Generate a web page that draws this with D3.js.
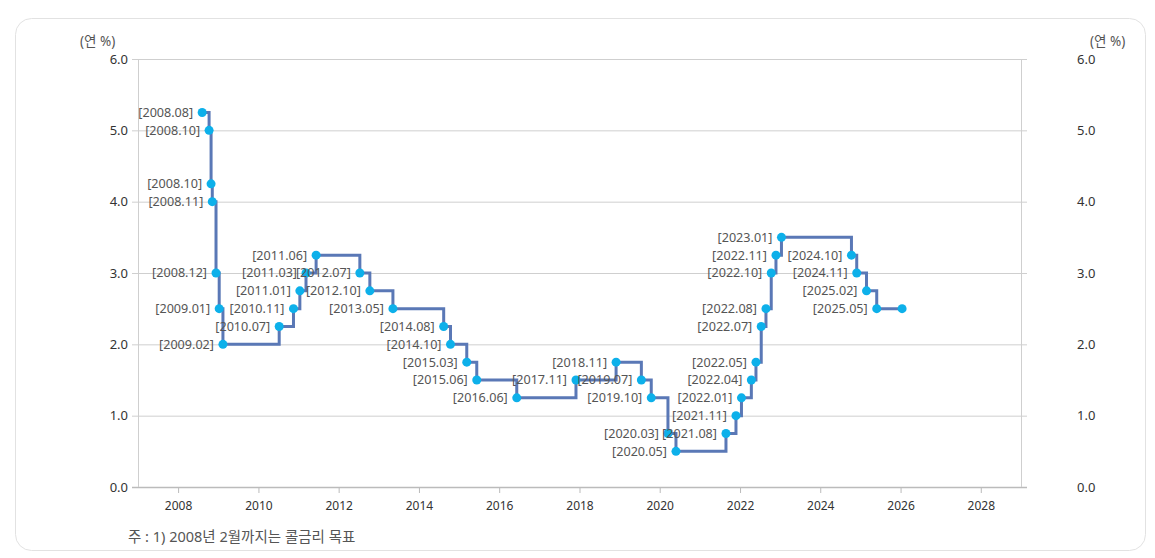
<!DOCTYPE html>
<html>
<head>
<meta charset="utf-8">
<script src="https://cdn.jsdelivr.net/npm/d3@7"></script>
<style>
  body { margin: 0; background: #fff; }
  text { font-family: "Noto Sans", "Noto Sans CJK KR", sans-serif; }
</style>
</head>
<body>
<div id="chart"></div>
<script>
// policy rate decisions (date, rate %)
const dates = [
  '2008-08-07', '2008-10-09', '2008-10-27', '2008-11-07', '2008-12-11',
  '2009-01-09', '2009-02-12', '2010-07-09', '2010-11-16', '2011-01-13',
  '2011-03-10', '2011-06-10', '2012-07-12', '2012-10-11', '2013-05-09',
  '2014-08-14', '2014-10-15', '2015-03-12', '2015-06-11', '2016-06-09',
  '2017-11-30', '2018-11-30', '2019-07-18', '2019-10-16', '2020-03-16',
  '2020-05-28', '2021-08-26', '2021-11-25', '2022-01-14', '2022-04-14',
  '2022-05-26', '2022-07-13', '2022-08-25', '2022-10-12', '2022-11-24',
  '2023-01-13', '2024-10-11', '2024-11-28', '2025-02-25', '2025-05-29',
  '2026-01-15'
];
const rates = [
  5.25, 5.00, 4.25, 4.00, 3.00,
  2.50, 2.00, 2.25, 2.50, 2.75,
  3.00, 3.25, 3.00, 2.75, 2.50,
  2.25, 2.00, 1.75, 1.50, 1.25,
  1.50, 1.75, 1.50, 1.25, 0.75,
  0.50, 0.75, 1.00, 1.25, 1.50,
  1.75, 2.25, 2.50, 3.00, 3.25,
  3.50, 3.25, 3.00, 2.75, 2.50,
  2.50
];
const labels = [
  '[2008.08]', '[2008.10]', '[2008.10]', '[2008.11]', '[2008.12]',
  '[2009.01]', '[2009.02]', '[2010.07]', '[2010.11]', '[2011.01]',
  '[2011.03]', '[2011.06]', '[2012.07]', '[2012.10]', '[2013.05]',
  '[2014.08]', '[2014.10]', '[2015.03]', '[2015.06]', '[2016.06]',
  '[2017.11]', '[2018.11]', '[2019.07]', '[2019.10]', '[2020.03]',
  '[2020.05]', '[2021.08]', '[2021.11]', '[2022.01]', '[2022.04]',
  '[2022.05]', '[2022.07]', '[2022.08]', '[2022.10]', '[2022.11]',
  '[2023.01]', '[2024.10]', '[2024.11]', '[2025.02]', '[2025.05]',
  ''
];
const yTicks = [0, 1, 2, 3, 4, 5, 6];
const xTickYears = [2008, 2010, 2012, 2014, 2016, 2018, 2020, 2022, 2024, 2026, 2028];
const unitLabel = '(연 %)';
const footnote = '주 : 1) 2008년 2월까지는 콜금리 목표';

const parse = d3.timeParse('%Y-%m-%d');
const data = dates.map((d, i) => ({ date: parse(d), rate: rates[i], label: labels[i] }));

const width = 1155, height = 558;
const svg = d3.select('#chart').append('svg')
    .attr('width', width)
    .attr('height', height);

// card frame
svg.append('rect')
    .attr('x', 15.5).attr('y', 18.5)
    .attr('width', 1130).attr('height', 532)
    .attr('rx', 16)
    .attr('fill', '#fff')
    .attr('stroke', '#e2e2e2');

const plotLeft = 138, plotRight = 1021, plotTop = 59, plotBottom = 487;

const x = d3.scaleTime()
    .domain([new Date(2007, 0, 1), new Date(2029, 0, 1)])
    .range([plotLeft, plotRight]);
const y = d3.scaleLinear()
    .domain([0, 6])
    .range([plotBottom, plotTop]);

// horizontal grid
svg.append('g').selectAll('line')
    .data(yTicks)
    .enter()
    .append('line')
    .attr('x1', plotLeft - 6).attr('x2', plotRight + 6)
    .attr('y1', d => y(d) + 0.5).attr('y2', d => y(d) + 0.5)
    .attr('stroke', d => d === 0 ? '#bbb' : '#cfcfcf')
    .attr('stroke-width', d => d === 0 ? 1.5 : 1);

// vertical frame lines
[plotLeft, plotRight].forEach(px => {
    svg.append('line')
        .attr('x1', px + 0.5).attr('x2', px + 0.5)
        .attr('y1', plotTop).attr('y2', plotBottom)
        .attr('stroke', '#cfcfcf');
});

// y labels
const yfmt = d3.format('.1f');
svg.append('g').selectAll('text')
    .data(yTicks)
    .enter()
    .append('text')
    .attr('x', plotLeft - 10)
    .attr('y', d => y(d))
    .attr('dy', '0.35em')
    .attr('text-anchor', 'end')
    .attr('font-size', 13)
    .attr('fill', '#333')
    .text(yfmt);

svg.append('g').selectAll('text')
    .data(yTicks)
    .enter()
    .append('text')
    .attr('x', 1077)
    .attr('y', d => y(d))
    .attr('dy', '0.35em')
    .attr('font-size', 13)
    .attr('fill', '#333')
    .text(yfmt);

svg.append('text')
    .attr('x', 80).attr('y', 46)
    .attr('font-size', 13.5)
    .attr('fill', '#555')
    .attr('font-family', '"Noto Sans CJK KR", sans-serif')
    .text(unitLabel);
svg.append('text')
    .attr('x', 1090).attr('y', 46)
    .attr('font-size', 13.5)
    .attr('fill', '#555')
    .attr('font-family', '"Noto Sans CJK KR", sans-serif')
    .text(unitLabel);

// x axis
const xAxis = d3.axisBottom(x)
    .tickValues(xTickYears.map(yr => new Date(yr, 0, 1)))
    .tickFormat(d3.timeFormat('%Y'))
    .tickSize(5)
    .tickPadding(8);
const gx = svg.append('g')
    .attr('transform', `translate(0,${plotBottom + 1})`)
    .call(xAxis);
gx.select('.domain').remove();
gx.selectAll('.tick line').attr('stroke', '#bbb');
gx.selectAll('.tick text')
    .attr('font-size', 12)
    .attr('fill', '#333')
    .style('font-family', '"Noto Sans", sans-serif');

// step line
const line = d3.line()
    .x(d => x(d.date))
    .y(d => y(d.rate))
    .curve(d3.curveStepAfter);

svg.append('path')
    .datum(data)
    .attr('fill', 'none')
    .attr('stroke', '#5a78b6')
    .attr('stroke-width', 3)
    .attr('d', line);

const pts = svg.append('g').selectAll('g')
    .data(data)
    .enter()
    .append('g')
    .attr('transform', d => `translate(${x(d.date)},${y(d.rate)})`);

pts.append('circle')
    .attr('r', 4.5)
    .attr('fill', '#0db0ea');

pts.append('text')
    .attr('x', -9)
    .attr('dy', '0.35em')
    .attr('text-anchor', 'end')
    .attr('font-size', 12.6)
    .attr('fill', '#555')
    .text(d => d.label);

svg.append('text')
    .attr('x', 128).attr('y', 542)
    .attr('font-size', 14.5)
    .attr('fill', '#555')
    .attr('font-family', '"Noto Sans CJK KR", sans-serif')
    .text(footnote);
</script>
</body>
</html>
